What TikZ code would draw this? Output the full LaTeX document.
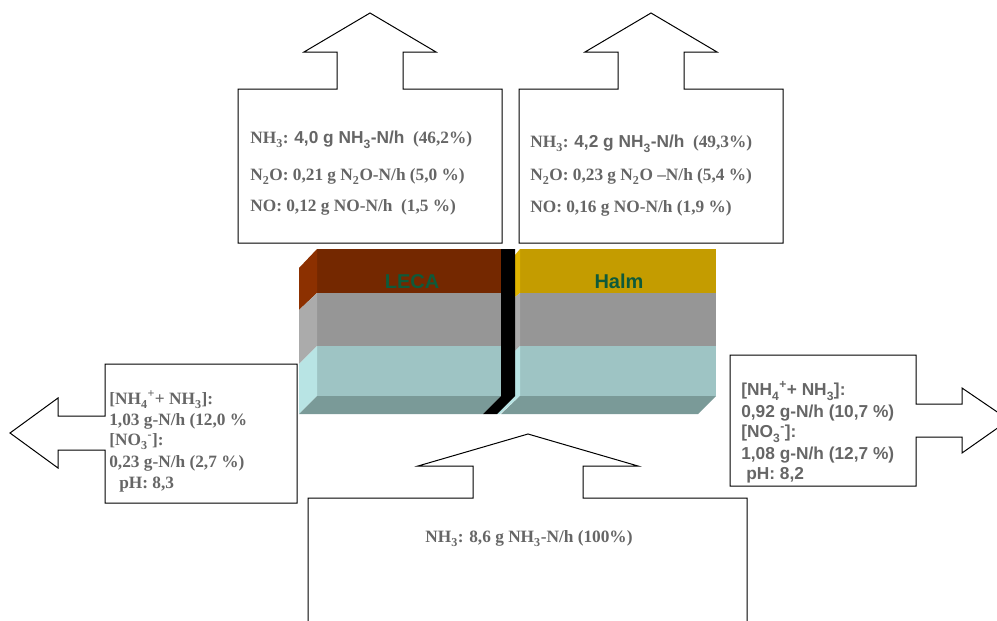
\documentclass[tikz,border=0pt]{standalone}
\usepackage{fontspec}
\setmainfont{Liberation Serif}
\setsansfont{Liberation Sans}
\usepackage{tikz}
\usetikzlibrary{arrows.meta, positioning}
\newcommand{\sub}[1]{\raisebox{-0.3ex}{\textsubscript{#1}}}
\newcommand{\sans}[1]{{\sffamily #1}}
\definecolor{brownfront}{HTML}{742800}
\definecolor{brownside}{HTML}{8C3000}
\definecolor{goldfront}{HTML}{C49C00}
\definecolor{goldside}{HTML}{E0B400}
\definecolor{grayfront}{HTML}{969696}
\definecolor{grayside}{HTML}{ABABAB}
\definecolor{tealfront}{HTML}{9EC4C4}
\definecolor{tealside}{HTML}{B8E4E4}
\definecolor{tealbase}{HTML}{7A9A98}
\definecolor{labelgray}{HTML}{666666}
\definecolor{labelgreen}{HTML}{0E5A3A}

\begin{document}
\begin{tikzpicture}[x=1pt, y=-1pt, semithick,
    outline/.style={draw=black, fill=white, line width=1pt, line join=miter},
    rate/.style={anchor=base west, inner sep=0pt, text=labelgray, font=\bfseries\fontsize{17.3}{17.3}\selectfont},
    ratesans/.style={rate, font=\sffamily\bfseries\fontsize{17.3}{17.3}\selectfont},
    layer/.style={anchor=base, inner sep=0pt, text=labelgreen, font=\sffamily\bfseries\fontsize{20}{20}\selectfont}]
    \useasboundingbox (0,0) rectangle (997,621);
    \clip (0,0) rectangle (997,621);

    % left block
    \fill[brownfront] (317,249) rectangle (501,293);
    \fill[grayfront] (317,293) rectangle (501,346);
    \fill[tealfront] (317,346) rectangle (501,396);
    \fill[brownside] (299,268) -- (317,249) -- (317,293) -- (299,310) -- cycle;
    \fill[grayside] (299,310) -- (317,293) -- (317,346) -- (299,364) -- cycle;
    \fill[tealside] (299,364) -- (317,346) -- (317,396) -- (299,414) -- cycle;
    \fill[tealbase] (317,396) -- (501,396) -- (483,414) -- (299,414) -- cycle;

    % right block
    \fill[goldfront] (520,249) rectangle (716,293);
    \fill[grayfront] (520,293) rectangle (716,346);
    \fill[tealfront] (520,346) rectangle (716,396);
    \fill[goldside] (515,255) -- (520,249) -- (520,293) -- (515,297) -- cycle;
    \fill[grayside] (515,297) -- (520,293) -- (520,346) -- (515,351) -- cycle;
    \fill[tealside] (515,351) -- (520,346) -- (520,396) -- (500,414) -- (497,414) -- (515,396) -- cycle;
    \fill[tealbase] (520,396) -- (716,396) -- (698,414) -- (501,414) -- cycle;

    % divider
    \fill[black] (501,249) -- (515,249) -- (515,396) -- (497,414) -- (483,414) -- (501,396) -- cycle;

    % arrows
    \draw[outline] (238,89) -- (337,89) -- (337,52) -- (304,52) -- (370,13) -- (436,52) -- (403,52) -- (403,89)
        -- (502,89) -- (502,243) -- (238,243) -- cycle;
    \draw[outline] (519,89) -- (618,89) -- (618,52) -- (585,52) -- (651,13) -- (717,52) -- (684,52) -- (684,89)
        -- (783,89) -- (783,243) -- (519,243) -- cycle;
    \draw[outline] (297,364) -- (105,364) -- (105,416) -- (58,416) -- (58,398) -- (10,433) -- (58,468) -- (58,450)
        -- (105,450) -- (105,503) -- (297,503) -- cycle;
    \draw[outline] (730,355) -- (916,355) -- (916,404) -- (962,404) -- (962,388) -- (1009,420) -- (962,453) -- (962,437)
        -- (916,437) -- (916,486) -- (730,486) -- cycle;
    \draw[outline] (308,630) -- (308,498) -- (473,498) -- (473,466) -- (418,466) -- (528,434) -- (638,466) -- (583,466)
        -- (583,498) -- (747,498) -- (747,630);

    % layer labels
    \node[layer] (leca) at (412,288) {LECA};
    \node[layer] (halm) at (619,288) {Halm};

    % gas out, left
    \node[rate] (nh3l) at (250,143) {NH\sub{3}: \sans{4,0 g NH\sub{3}-N/h}\ \ (46,2\%)};
    \node[rate] (n2ol) at (250,180) {N\sub{2}O: 0,21 g N\sub{2}O-N/h (5,0 \%)};
    \node[rate] (nol) at (250,211) {NO: 0,12 g NO-N/h\ \ (1,5 \%)};

    % gas out, right
    \node[rate] (nh3r) at (530,147) {NH\sub{3}: \sans{4,2 g NH\sub{3}-N/h}\ \ (49,3\%)};
    \node[rate] (n2or) at (530,180) {N\sub{2}O: 0,23 g N\sub{2}O --N/h (5,4 \%)};
    \node[rate] (nor) at (530,212) {NO: 0,16 g NO-N/h (1,9 \%)};

    % drain, left
    \node[rate] (ammL) at (109,404) {[NH\sub{4}\textsuperscript{+}+ NH\sub{3}]:};
    \node[rate] (ammLv) at (109,425) {1,03 g-N/h (12,0 \%};
    \node[rate] (nitL) at (109,445) {[NO\sub{3}\textsuperscript{-}]:};
    \node[rate] (nitLv) at (109,467) {0,23 g-N/h (2,7 \%)};
    \node[rate] (phL) at (119,488) {pH: 8,3};

    % drain, right
    \node[ratesans] (ammR) at (741,395) {[NH\sub{4}\textsuperscript{+}+ NH\sub{3}]:};
    \node[ratesans] (ammRv) at (741,417) {0,92 g-N/h (10,7 \%)};
    \node[ratesans] (nitR) at (741,437) {[NO\sub{3}\textsuperscript{-}]:};
    \node[ratesans] (nitRv) at (741,459) {1,08 g-N/h (12,7 \%)};
    \node[ratesans] (phR) at (746,479) {pH: 8,2};

    % supply
    \node[rate] (nh3in) at (425,542) {NH\sub{3}: 8,6 g NH\sub{3}-N/h (100\%)};
\end{tikzpicture}
\end{document}
